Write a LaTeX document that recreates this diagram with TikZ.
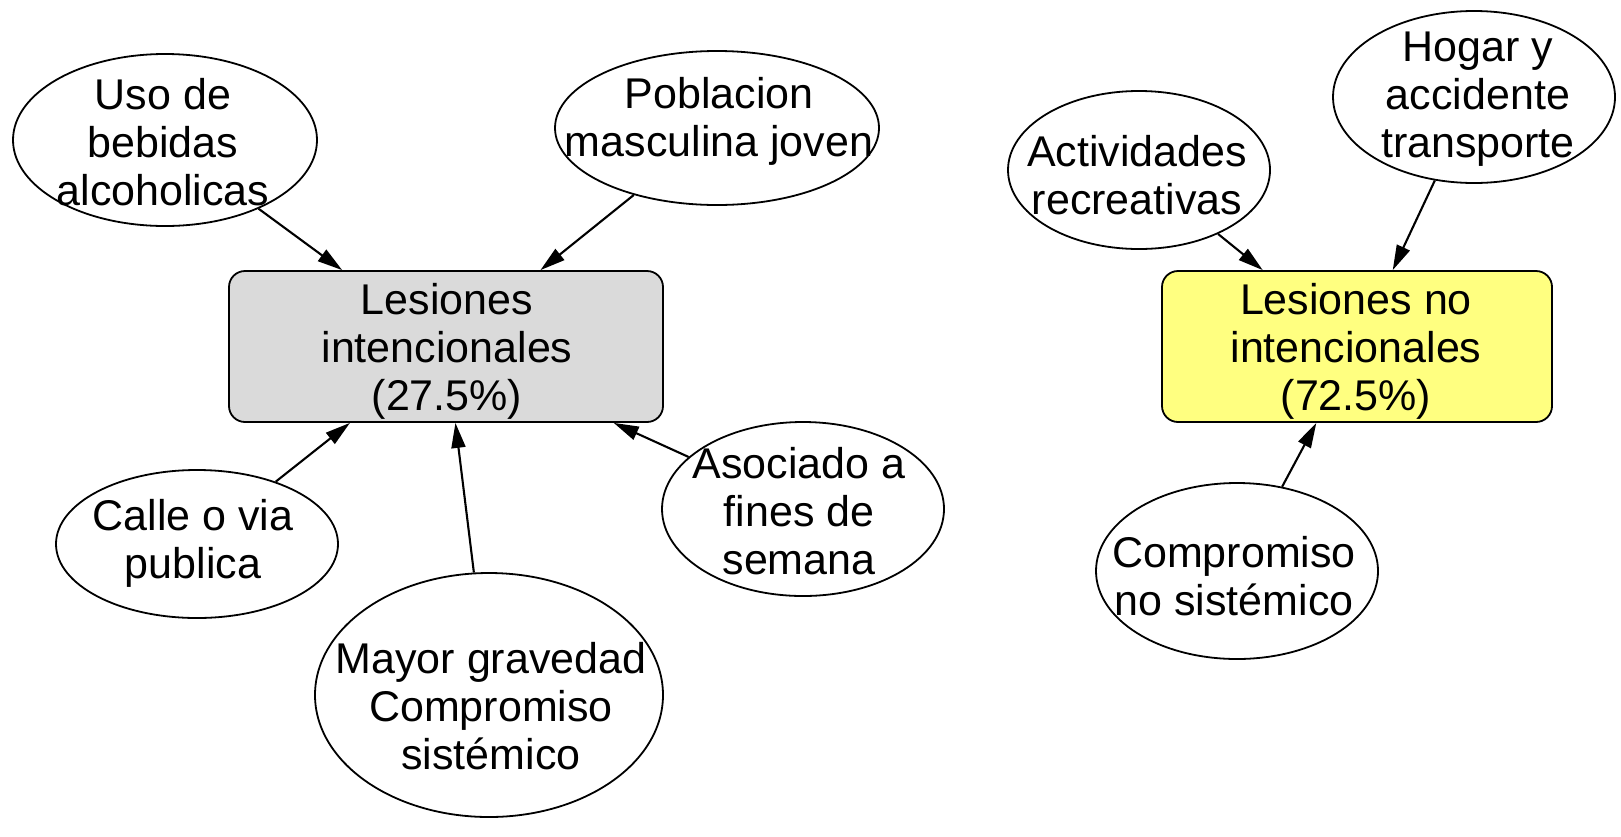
\documentclass[tikz,border=0pt]{standalone}
\usepackage{fontspec}
\setmainfont{Liberation Sans}
\usetikzlibrary{shapes.geometric,arrows.meta}
\definecolor{boxgray}{RGB}{218,218,218}
\definecolor{boxyellow}{RGB}{255,255,128}
\tikzset{
  oval/.style={draw=black, line width=1.8pt, ellipse, inner sep=0pt, fill=white},
  lbl/.style={inner sep=0pt, align=center, font=\fontsize{43}{48}\selectfont},
  mainbox/.style={draw=black, line width=1.8pt, rounded corners=16pt, inner sep=0pt},
  conn/.style={line width=2.1pt, -{Triangle[length=25pt,width=14pt]}},
}
\begin{document}
\begin{tikzpicture}[x=1pt,y=-1pt]
\useasboundingbox (0,0) rectangle (1621,836);
% main boxes
\node[mainbox, fill=boxgray, minimum width=434pt, minimum height=151pt] (les) at (446,346.5) {};
\node[mainbox, fill=boxyellow, minimum width=390pt, minimum height=151pt] (lesno) at (1357,346.5) {};
% ellipses
\node[oval, minimum width=304pt, minimum height=172pt] (uso) at (165,140) {};
\node[oval, minimum width=324pt, minimum height=154pt] (pob) at (717,128) {};
\node[oval, minimum width=282pt, minimum height=148pt] (calle) at (197,544) {};
\node[oval, minimum width=348pt, minimum height=244pt] (mayor) at (489,695) {};
\node[oval, minimum width=282pt, minimum height=174pt] (asoc) at (803,509) {};
\node[oval, minimum width=262pt, minimum height=158pt] (activ) at (1139,170) {};
\node[oval, minimum width=282pt, minimum height=172pt] (hogar) at (1474,97) {};
\node[oval, minimum width=282pt, minimum height=176pt] (compno) at (1237,571) {};
% texts
\node[lbl] (les-t) at (447,351) {Lesiones\\intencionales\\(27.5\%)};
\node[lbl] (lesno-t) at (1356,351) {Lesiones no\\intencionales\\(72.5\%)};
\node[lbl] (uso-t) at (163,142) {Uso de\\bebidas\\alcoholicas};
\node[lbl] (pob-t) at (719,121) {Poblacion\\masculina joven};
\node[lbl] (calle-t) at (193,543) {Calle o via\\publica};
\node[lbl] (mayor-t) at (491,706) {Mayor gravedad\\Compromiso\\sistémico};
\node[lbl] (asoc-t) at (799,511) {Asociado a\\fines de\\semana};
\node[lbl] (activ-t) at (1137,175) {Actividades\\recreativas};
\node[lbl] (hogar-t) at (1478,99) {Hogar y\\accidente\\transporte};
\node[lbl] (compno-t) at (1234,576) {Compromiso\\no sistémico};
% connectors
\draw[conn] (uso) -- (les);
\draw[conn] (pob) -- (les);
\draw[conn] (calle) -- (les);
\draw[conn] (mayor) -- (les);
\draw[conn] (asoc) -- (les);
\draw[conn] (activ) -- (lesno);
\draw[conn] (hogar) -- (lesno);
\draw[conn] (compno) -- (lesno);
\end{tikzpicture}
\end{document}
